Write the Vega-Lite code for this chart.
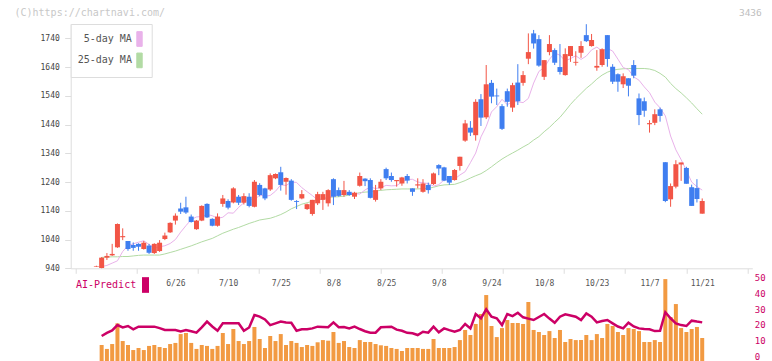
{
"$schema": "https://vega.github.io/schema/vega-lite/v6.json",
"autosize": {"type": "none"},
"padding": {"left": 70.7, "top": 24, "right": 19.7, "bottom": 0},
"width": 681.6, "height": 337,
"background": "#ffffff",
"config": {"view": {"stroke": null}, "font": "DejaVu Sans Mono"},
"data": {"values": [
{"i":1,"d":"6/5","o":946,"h":949,"l":945,"c":948,"v":null,"a":null,"m5":null,"m25":null},
{"i":2,"d":"6/6","o":941,"h":979,"l":940,"c":977,"v":7.8,"a":13.5,"m5":946,"m25":978},
{"i":3,"d":"6/9","o":977,"h":993,"l":969,"c":983,"v":5.3,"a":15.5,"m5":950,"m25":979},
{"i":4,"d":"6/10","o":985,"h":1025,"l":983,"c":990,"v":8.4,"a":17,"m5":958,"m25":980},
{"i":5,"d":"6/11","o":1013,"h":1096,"l":1011,"c":1094,"v":21.5,"a":20.4,"m5":966,"m25":980},
{"i":6,"d":"6/12","o":1048,"h":1079,"l":1038,"c":1052,"v":10.3,"a":18.9,"m5":998.6,"m25":981},
{"i":7,"d":"6/13","o":1035,"h":1035,"l":1001,"c":1007,"v":7.8,"a":19.8,"m5":1019,"m25":981},
{"i":8,"d":"6/16","o":1021,"h":1030,"l":1001,"c":1011,"v":4.6,"a":17.7,"m5":1025.2,"m25":983},
{"i":9,"d":"6/17","o":1025,"h":1027,"l":1001,"c":1015,"v":5.9,"a":19.4,"m5":1030.8,"m25":985},
{"i":10,"d":"6/18","o":1007,"h":1035,"l":1005,"c":1029,"v":4.6,"a":19.4,"m5":1035.8,"m25":986},
{"i":11,"d":"6/19","o":1019,"h":1025,"l":990,"c":994,"v":7.2,"a":19.4,"m5":1022.8,"m25":986},
{"i":12,"d":"6/20","o":993,"h":1027,"l":990,"c":1025,"v":7.8,"a":19.4,"m5":1011.2,"m25":986},
{"i":13,"d":"6/23","o":1000,"h":1038,"l":997,"c":1029,"v":6.5,"a":18.5,"m5":1014.8,"m25":986},
{"i":14,"d":"6/24","o":1042,"h":1064,"l":1038,"c":1054,"v":5.9,"a":17.3,"m5":1018.4,"m25":990},
{"i":15,"d":"6/25","o":1065,"h":1100,"l":1063,"c":1098,"v":8.4,"a":17.3,"m5":1026.2,"m25":995},
{"i":16,"d":"6/26","o":1106,"h":1131,"l":1092,"c":1123,"v":9.1,"a":17.3,"m5":1040,"m25":1000},
{"i":17,"d":"6/27","o":1148,"h":1168,"l":1129,"c":1137,"v":14.7,"a":16.4,"m5":1065.8,"m25":1006},
{"i":18,"d":"6/30","o":1152,"h":1189,"l":1129,"c":1134,"v":15.4,"a":17.3,"m5":1088.2,"m25":1012},
{"i":19,"d":"7/1","o":1120,"h":1127,"l":1099,"c":1101,"v":9.1,"a":16.5,"m5":1109.2,"m25":1018},
{"i":20,"d":"7/2","o":1076,"h":1108,"l":1074,"c":1106,"v":5.3,"a":15.6,"m5":1118.6,"m25":1025},
{"i":21,"d":"7/3","o":1106,"h":1159,"l":1104,"c":1157,"v":7.8,"a":19,"m5":1120.2,"m25":1032},
{"i":22,"d":"7/4","o":1164,"h":1166,"l":1115,"c":1117,"v":7.2,"a":22.6,"m5":1127,"m25":1038},
{"i":23,"d":"7/7","o":1112,"h":1114,"l":1086,"c":1088,"v":5.3,"a":19.5,"m5":1123,"m25":1044},
{"i":24,"d":"7/8","o":1088,"h":1131,"l":1085,"c":1120,"v":7.2,"a":16.8,"m5":1113.8,"m25":1053},
{"i":25,"d":"7/9","o":1164,"h":1195,"l":1154,"c":1183,"v":15.4,"a":21.5,"m5":1117.6,"m25":1062},
{"i":26,"d":"7/10","o":1174,"h":1180,"l":1145,"c":1151,"v":8.4,"a":21.5,"m5":1133,"m25":1069},
{"i":27,"d":"7/11","o":1169,"h":1222,"l":1166,"c":1218,"v":17.9,"a":21.5,"m5":1131.8,"m25":1076},
{"i":28,"d":"7/14","o":1189,"h":1195,"l":1160,"c":1168,"v":10.3,"a":21.5,"m5":1152,"m25":1082},
{"i":29,"d":"7/15","o":1168,"h":1201,"l":1162,"c":1191,"v":8.4,"a":16.8,"m5":1168,"m25":1089},
{"i":30,"d":"7/16","o":1189,"h":1201,"l":1152,"c":1157,"v":10.3,"a":18.9,"m5":1182.2,"m25":1096},
{"i":31,"d":"7/17","o":1154,"h":1247,"l":1152,"c":1241,"v":19.2,"a":26.8,"m5":1177,"m25":1102},
{"i":32,"d":"7/18","o":1230,"h":1236,"l":1190,"c":1195,"v":11.6,"a":25.8,"m5":1195,"m25":1108},
{"i":33,"d":"7/22","o":1218,"h":1220,"l":1177,"c":1183,"v":5.9,"a":24,"m5":1190.4,"m25":1111},
{"i":34,"d":"7/23","o":1214,"h":1270,"l":1209,"c":1264,"v":13.5,"a":20.4,"m5":1193.4,"m25":1114},
{"i":35,"d":"7/24","o":1253,"h":1270,"l":1250,"c":1268,"v":10.3,"a":21.5,"m5":1208,"m25":1120},
{"i":36,"d":"7/25","o":1274,"h":1293,"l":1210,"c":1230,"v":14.7,"a":22.6,"m5":1230.2,"m25":1127},
{"i":37,"d":"7/28","o":1241,"h":1256,"l":1196,"c":1254,"v":7.8,"a":22,"m5":1228,"m25":1136},
{"i":38,"d":"7/29","o":1245,"h":1250,"l":1175,"c":1178,"v":10.3,"a":21.9,"m5":1239.8,"m25":1147},
{"i":39,"d":"7/30","o":1174,"h":1177,"l":1146,"c":1171,"v":9.1,"a":16.8,"m5":1238.8,"m25":1155},
{"i":40,"d":"7/31","o":1183,"h":1212,"l":1180,"c":1198,"v":6.5,"a":17.7,"m5":1220.4,"m25":1163},
{"i":41,"d":"8/1","o":1146,"h":1165,"l":1143,"c":1163,"v":7.8,"a":17.7,"m5":1206.4,"m25":1168},
{"i":42,"d":"8/4","o":1129,"h":1178,"l":1123,"c":1178,"v":7.2,"a":18.3,"m5":1193,"m25":1173},
{"i":43,"d":"8/5","o":1166,"h":1206,"l":1160,"c":1198,"v":9.5,"a":19.4,"m5":1177.8,"m25":1177},
{"i":44,"d":"8/6","o":1178,"h":1206,"l":1143,"c":1198,"v":10.9,"a":19.2,"m5":1181.8,"m25":1182},
{"i":45,"d":"8/7","o":1166,"h":1215,"l":1155,"c":1212,"v":10.5,"a":19,"m5":1187,"m25":1186},
{"i":46,"d":"8/8","o":1250,"h":1253,"l":1160,"c":1189,"v":16,"a":22.1,"m5":1189.8,"m25":1188},
{"i":47,"d":"8/12","o":1212,"h":1221,"l":1189,"c":1192,"v":9.1,"a":19,"m5":1195,"m25":1189},
{"i":48,"d":"8/13","o":1195,"h":1244,"l":1189,"c":1212,"v":10.3,"a":19.2,"m5":1197.8,"m25":1191},
{"i":49,"d":"8/14","o":1206,"h":1212,"l":1192,"c":1195,"v":6.5,"a":18.3,"m5":1200.6,"m25":1195},
{"i":50,"d":"8/15","o":1189,"h":1206,"l":1181,"c":1203,"v":5.9,"a":19.4,"m5":1200,"m25":1199},
{"i":51,"d":"8/18","o":1227,"h":1273,"l":1224,"c":1261,"v":10.9,"a":17.9,"m5":1198.2,"m25":1203},
{"i":52,"d":"8/19","o":1252,"h":1253,"l":1226,"c":1243,"v":9.7,"a":16.5,"m5":1212.6,"m25":1205},
{"i":53,"d":"8/20","o":1247,"h":1253,"l":1183,"c":1185,"v":9.7,"a":15.6,"m5":1222.8,"m25":1206},
{"i":54,"d":"8/21","o":1178,"h":1230,"l":1172,"c":1212,"v":8.4,"a":15.6,"m5":1217.4,"m25":1209},
{"i":55,"d":"8/22","o":1218,"h":1250,"l":1212,"c":1241,"v":7.6,"a":19,"m5":1220.8,"m25":1211},
{"i":56,"d":"8/25","o":1285,"h":1290,"l":1247,"c":1253,"v":7.2,"a":19.2,"m5":1228.4,"m25":1213},
{"i":57,"d":"8/26","o":1261,"h":1273,"l":1241,"c":1247,"v":5.9,"a":19.4,"m5":1226.8,"m25":1214},
{"i":58,"d":"8/27","o":1243,"h":1247,"l":1224,"c":1247,"v":5.3,"a":17.5,"m5":1227.6,"m25":1215},
{"i":59,"d":"8/28","o":1235,"h":1258,"l":1227,"c":1256,"v":4,"a":16.8,"m5":1240,"m25":1216},
{"i":60,"d":"8/29","o":1261,"h":1268,"l":1235,"c":1245,"v":5.9,"a":15.5,"m5":1248.8,"m25":1216},
{"i":61,"d":"9/1","o":1218,"h":1218,"l":1192,"c":1206,"v":5.9,"a":15.2,"m5":1249.6,"m25":1216},
{"i":62,"d":"9/2","o":1228,"h":1253,"l":1218,"c":1232,"v":5.9,"a":14.1,"m5":1240.2,"m25":1216},
{"i":63,"d":"9/3","o":1206,"h":1250,"l":1203,"c":1235,"v":5.3,"a":16.2,"m5":1237.2,"m25":1217},
{"i":64,"d":"9/4","o":1230,"h":1238,"l":1200,"c":1212,"v":5.3,"a":15.6,"m5":1234.8,"m25":1218},
{"i":65,"d":"9/5","o":1233,"h":1273,"l":1230,"c":1270,"v":11.6,"a":19.4,"m5":1226,"m25":1222},
{"i":66,"d":"9/8","o":1299,"h":1302,"l":1264,"c":1287,"v":5.9,"a":15.8,"m5":1231,"m25":1227},
{"i":67,"d":"9/9","o":1291,"h":1293,"l":1243,"c":1245,"v":5.9,"a":18.3,"m5":1247.2,"m25":1230},
{"i":68,"d":"9/10","o":1261,"h":1261,"l":1230,"c":1238,"v":5.9,"a":17.2,"m5":1249.8,"m25":1231},
{"i":69,"d":"9/11","o":1247,"h":1285,"l":1245,"c":1282,"v":6.5,"a":16.2,"m5":1250.4,"m25":1232},
{"i":70,"d":"9/12","o":1296,"h":1328,"l":1280,"c":1328,"v":10.9,"a":17.3,"m5":1264.4,"m25":1238},
{"i":71,"d":"9/16","o":1384,"h":1456,"l":1380,"c":1444,"v":17.3,"a":21.1,"m5":1276,"m25":1245},
{"i":72,"d":"9/17","o":1429,"h":1452,"l":1400,"c":1412,"v":14.1,"a":18.3,"m5":1307.4,"m25":1254},
{"i":73,"d":"9/18","o":1403,"h":1528,"l":1384,"c":1519,"v":21.1,"a":27.4,"m5":1340.8,"m25":1262},
{"i":74,"d":"9/19","o":1528,"h":1546,"l":1435,"c":1464,"v":27.4,"a":24.7,"m5":1397,"m25":1269},
{"i":75,"d":"9/22","o":1465,"h":1647,"l":1459,"c":1580,"v":39.4,"a":30.4,"m5":1433.4,"m25":1280},
{"i":76,"d":"9/24","o":1585,"h":1595,"l":1514,"c":1537,"v":19.8,"a":25.7,"m5":1483.8,"m25":1293},
{"i":77,"d":"9/25","o":1541,"h":1565,"l":1508,"c":1538,"v":12.8,"a":24.7,"m5":1502.4,"m25":1307},
{"i":78,"d":"9/26","o":1504,"h":1511,"l":1421,"c":1425,"v":18.5,"a":20.4,"m5":1527.8,"m25":1320},
{"i":79,"d":"9/29","o":1556,"h":1565,"l":1502,"c":1519,"v":23.6,"a":27.4,"m5":1509,"m25":1331},
{"i":80,"d":"9/30","o":1499,"h":1585,"l":1484,"c":1577,"v":21.7,"a":26.1,"m5":1520,"m25":1341},
{"i":81,"d":"10/1","o":1586,"h":1650,"l":1508,"c":1521,"v":21.7,"a":28.2,"m5":1519.4,"m25":1351},
{"i":82,"d":"10/2","o":1585,"h":1626,"l":1575,"c":1612,"v":21.1,"a":25.3,"m5":1516.2,"m25":1362},
{"i":83,"d":"10/3","o":1669,"h":1757,"l":1650,"c":1692,"v":35,"a":24.5,"m5":1530.8,"m25":1372},
{"i":84,"d":"10/6","o":1757,"h":1769,"l":1704,"c":1722,"v":17.3,"a":23.6,"m5":1584.2,"m25":1386},
{"i":85,"d":"10/7","o":1737,"h":1751,"l":1641,"c":1645,"v":16,"a":25.5,"m5":1624.8,"m25":1398},
{"i":86,"d":"10/8","o":1606,"h":1664,"l":1595,"c":1664,"v":14.1,"a":27.4,"m5":1638.4,"m25":1415},
{"i":87,"d":"10/9","o":1692,"h":1751,"l":1681,"c":1720,"v":16.6,"a":24.5,"m5":1667,"m25":1430},
{"i":88,"d":"10/10","o":1699,"h":1705,"l":1647,"c":1655,"v":12.2,"a":21.9,"m5":1688.6,"m25":1448},
{"i":89,"d":"10/14","o":1640,"h":1720,"l":1614,"c":1623,"v":17.3,"a":25.7,"m5":1681.2,"m25":1465},
{"i":90,"d":"10/15","o":1612,"h":1705,"l":1610,"c":1685,"v":9.7,"a":27.2,"m5":1661.4,"m25":1487},
{"i":91,"d":"10/16","o":1678,"h":1713,"l":1658,"c":1713,"v":11.6,"a":26.5,"m5":1669.4,"m25":1510},
{"i":92,"d":"10/17","o":1655,"h":1695,"l":1645,"c":1658,"v":10.9,"a":25.7,"m5":1679.2,"m25":1530},
{"i":93,"d":"10/20","o":1690,"h":1730,"l":1672,"c":1713,"v":10.9,"a":23.6,"m5":1666.6,"m25":1548},
{"i":94,"d":"10/21","o":1751,"h":1789,"l":1727,"c":1730,"v":14.1,"a":27.8,"m5":1678.2,"m25":1566},
{"i":95,"d":"10/22","o":1713,"h":1755,"l":1711,"c":1734,"v":10.9,"a":25.7,"m5":1699.6,"m25":1581},
{"i":96,"d":"10/23","o":1638,"h":1699,"l":1627,"c":1644,"v":14.7,"a":22.1,"m5":1709.4,"m25":1598},
{"i":97,"d":"10/24","o":1647,"h":1705,"l":1641,"c":1702,"v":12.2,"a":23,"m5":1695.6,"m25":1612},
{"i":98,"d":"10/27","o":1751,"h":1751,"l":1641,"c":1668,"v":21.1,"a":23.6,"m5":1704.6,"m25":1622},
{"i":99,"d":"10/28","o":1641,"h":1650,"l":1581,"c":1589,"v":19.8,"a":21.5,"m5":1695.6,"m25":1629},
{"i":100,"d":"10/29","o":1615,"h":1618,"l":1554,"c":1589,"v":16,"a":19.5,"m5":1667.4,"m25":1632},
{"i":101,"d":"10/30","o":1580,"h":1618,"l":1567,"c":1608,"v":14.1,"a":18.3,"m5":1638.4,"m25":1634},
{"i":102,"d":"10/31","o":1601,"h":1601,"l":1538,"c":1575,"v":18.5,"a":21.9,"m5":1631.2,"m25":1635},
{"i":103,"d":"11/4","o":1647,"h":1664,"l":1601,"c":1610,"v":17.9,"a":19.5,"m5":1605.8,"m25":1635},
{"i":104,"d":"11/5","o":1531,"h":1548,"l":1438,"c":1473,"v":16.6,"a":18.3,"m5":1594.2,"m25":1635},
{"i":105,"d":"11/6","o":1521,"h":1534,"l":1467,"c":1488,"v":9.7,"a":17.9,"m5":1571,"m25":1635},
{"i":106,"d":"11/7","o":1441,"h":1455,"l":1412,"c":1445,"v":9.7,"a":17.7,"m5":1550.8,"m25":1633},
{"i":107,"d":"11/10","o":1446,"h":1493,"l":1438,"c":1476,"v":10.9,"a":16.6,"m5":1518,"m25":1628},
{"i":108,"d":"11/11","o":1493,"h":1499,"l":1450,"c":1470,"v":9.7,"a":16.8,"m5":1498.2,"m25":1618},
{"i":109,"d":"11/12","o":1309,"h":1309,"l":1170,"c":1174,"v":49.5,"a":28.5,"m5":1470.2,"m25":1605},
{"i":110,"d":"11/13","o":1180,"h":1235,"l":1154,"c":1226,"v":25.5,"a":24.7,"m5":1400,"m25":1583},
{"i":111,"d":"11/14","o":1224,"h":1316,"l":1218,"c":1302,"v":33.7,"a":21.5,"m5":1352,"m25":1565},
{"i":112,"d":"11/17","o":1301,"h":1308,"l":1244,"c":1308,"v":18.5,"a":20.4,"m5":1318,"m25":1550},
{"i":113,"d":"11/18","o":1289,"h":1293,"l":1234,"c":1234,"v":16,"a":19.8,"m5":1280,"m25":1533},
{"i":114,"d":"11/19","o":1222,"h":1231,"l":1157,"c":1157,"v":17.9,"a":23.2,"m5":1240,"m25":1515},
{"i":115,"d":"11/20","o":1219,"h":1250,"l":1169,"c":1181,"v":19.2,"a":22.6,"m5":1224,"m25":1495},
{"i":116,"d":"11/21","o":1130,"h":1183,"l":1130,"c":1174,"v":12.2,"a":22.1,"m5":1212,"m25":1476}
]},
"layer": [
{
"layer": [
{"mark": {"type": "line", "strokeWidth": 1},
 "encoding": {
  "x": {"field": "i", "type": "quantitative", "scale": {"domain": [-2.925, 124.56], "nice": false, "zero": false},
        "axis": {"orient": "bottom", "offset": -92.7, "values": [-2.925, 8.664, 20.253, 31.842, 43.431, 55.02, 66.609, 78.198, 89.787, 101.376, 112.965, 124.554], "labels": false, "domainColor": "#dddddd", "tickColor": "#dddddd", "tickSize": 5, "grid": false, "title": null}},
  "y": {"field": "m25", "type": "quantitative", "scale": {"domain": [940, 1789.7], "range": [244.3, 0], "nice": false, "zero": false},
        "axis": {"orient": "left", "values": [940, 1040, 1140, 1240, 1340, 1440, 1540, 1640, 1740], "format": "d", "domainColor": "#dddddd", "tickColor": "#dddddd", "tickSize": 6, "labelPadding": 5.4, "labelColor": "#444444", "labelFontSize": 8, "labelFont": "DejaVu Sans Mono", "labelOverlap": false, "grid": false,
                 "title": "(C)https://chartnavi.com/", "titleAngle": 0, "titleAlign": "left", "titleBaseline": "middle", "titleX": -56.7, "titleY": -12, "titleColor": "#c8c8c8", "titleFontSize": 10, "titleFontWeight": "normal", "titleFont": "DejaVu Sans Mono"}},
  "color": {"datum": "25-day MA", "scale": {"domain": ["5-day MA", "25-day MA"], "range": ["#e9b2ea", "#b2dba4"]},
            "legend": {"orient": "none", "legendX": 0, "legendY": 0, "title": null, "strokeColor": "#dddddd", "fillColor": "#ffffff", "padding": 7,
                       "labelAlign": "right", "labelOffset": -15.6, "symbolOffset": 53.8, "labelFont": "DejaVu Sans Mono", "labelFontSize": 10, "labelColor": "#555555", "labelLimit": 300,
                       "symbolType": "M-0.367,-1L0.367,-1L0.367,1L-0.367,1Z", "symbolSize": 216, "symbolStrokeWidth": 1, "rowPadding": 1.4,
                       "encode": {"symbols": {"update": {"shape": {"value": "M-0.367,-1L0.367,-1L0.367,1L-0.367,1Z"}, "size": {"value": 216}, "fill": {"signal": "datum.value === '5-day MA' ? '#e9b2ea' : '#b2dba4'"}, "stroke": {"value": "#555555"}, "strokeWidth": {"value": 1}, "opacity": {"value": 1}, "fillOpacity": {"value": 1}, "strokeOpacity": {"value": 1}, "strokeDash": {"value": []}}}}}}
 }},
{"mark": {"type": "line", "strokeWidth": 1},
 "encoding": {
  "x": {"field": "i", "type": "quantitative", "scale": {"domain": [-2.925, 124.56], "nice": false, "zero": false}},
  "y": {"field": "m5", "type": "quantitative", "scale": {"domain": [940, 1789.7], "range": [244.3, 0], "nice": false, "zero": false}},
  "color": {"datum": "5-day MA"}
 }},
{"mark": {"type": "rule", "strokeWidth": 1},
 "encoding": {
  "x": {"field": "i", "type": "quantitative", "scale": {"domain": [-2.925, 124.56], "nice": false, "zero": false}},
  "y": {"field": "l", "type": "quantitative", "scale": {"domain": [940, 1789.7], "range": [244.3, 0], "nice": false, "zero": false}},
  "y2": {"field": "h"},
  "color": {"condition": {"test": "datum.c >= datum.o", "value": "#f25546"}, "value": "#3f7ef0"}
 }},
{"mark": {"type": "bar", "size": 5},
 "encoding": {
  "x": {"field": "i", "type": "quantitative", "scale": {"domain": [-2.925, 124.56], "nice": false, "zero": false}},
  "y": {"field": "o", "type": "quantitative", "scale": {"domain": [940, 1789.7], "range": [244.3, 0], "nice": false, "zero": false}},
  "y2": {"field": "c"},
  "color": {"condition": {"test": "datum.c >= datum.o", "value": "#f25546"}, "value": "#3f7ef0"}
 }}
]
},
{
"layer": [
{"mark": {"type": "bar", "size": 4, "color": "#f29a42"},
 "encoding": {
  "x": {"field": "i", "type": "quantitative", "scale": {"domain": [-2.925, 124.56], "nice": false, "zero": false},
        "axis": {"orient": "top", "offset": -254, "values": [16, 26, 36, 46, 56, 66, 76, 86, 96, 106, 116],
                 "labelExpr": "['6/26','7/10','7/25','8/8','8/25','9/8','9/24','10/8','10/23','11/7','11/21'][round((datum.value-16)/10)]",
                 "domain": false, "ticks": false, "tickSize": 0, "labelPadding": -5, "labelBaseline": "middle", "labelColor": "#555555", "labelFontSize": 8, "labelFont": "DejaVu Sans Mono", "labelOverlap": false, "labelFlush": false, "grid": false, "title": null}},
  "y": {"field": "v", "type": "quantitative", "scale": {"domain": [-2.34, 50.19], "range": [337, 254], "nice": false, "zero": false},
        "axis": {"orient": "right", "values": [0, 10, 20, 30, 40, 50], "domain": false, "ticks": false, "tickSize": 0, "labelPadding": 2, "labelOffset": -0.8, "labelColor": "#cc0066", "labelFontSize": 9, "labelFont": "DejaVu Sans Mono", "labelAlign": "left", "labelBaseline": "middle", "labelOverlap": false, "grid": false,
                 "title": "3436", "titleAngle": 0, "titleAlign": "right", "titleBaseline": "middle", "titleX": 9, "titleY": -12, "titleColor": "#c0c0c0", "titleFontSize": 9.5, "titleFontWeight": "normal", "titleFont": "DejaVu Sans Mono"}},
  "y2": {"datum": -2.34}
 }},
{"mark": {"type": "line", "strokeWidth": 2.5},
 "encoding": {
  "x": {"field": "i", "type": "quantitative", "scale": {"domain": [-2.925, 124.56], "nice": false, "zero": false}},
  "y": {"field": "a", "type": "quantitative", "scale": {"domain": [-2.34, 50.19], "range": [337, 254], "nice": false, "zero": false}},
  "color": {"datum": "AI-Predict", "scale": {"domain": ["AI-Predict"], "range": ["#cc0066"]},
            "legend": {"orient": "none", "legendX": 5.3, "legendY": 253, "title": null, "padding": 0,
                       "labelAlign": "right", "labelOffset": -17.3, "symbolOffset": 61.5, "labelFont": "DejaVu Sans Mono", "labelFontSize": 10, "labelColor": "#cc0066", "labelLimit": 300,
                       "symbolType": "M-0.446,-1L0.446,-1L0.446,1L-0.446,1Z", "symbolSize": 246, "symbolStrokeWidth": 0,
                       "encode": {"symbols": {"update": {"shape": {"value": "M-0.446,-1L0.446,-1L0.446,1L-0.446,1Z"}, "size": {"value": 246}, "fill": {"value": "#cc0066"}, "stroke": {"value": "#cc0066"}, "strokeWidth": {"value": 0}, "opacity": {"value": 1}, "fillOpacity": {"value": 1}}}}}}
 }}
]
}
],
"resolve": {"scale": {"y": "independent", "color": "independent"}, "axis": {"y": "independent", "x": "independent"}, "legend": {"color": "independent"}}
}
